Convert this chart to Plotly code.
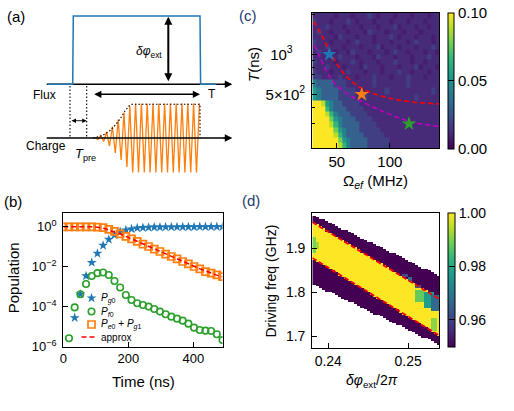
import numpy as np
import plotly.graph_objects as go

FONT = "Liberation Sans, Arial, Helvetica, sans-serif"
W, H = 514, 411

# ============================ DATA ============================
# ---- (b) populations versus time ----
time_ns = [0, 17.5, 35, 52.5, 70, 87.5, 105, 122.5, 140, 157.5, 175, 192.5, 210,
           227.5, 245, 262.5, 280, 297.5, 315, 332.5, 350, 367.5, 385, 402.5, 420,
           437.5, 455, 472.5, 490]
# log10 of the populations
log10_p_g0 = [-4.56, -3.38, -2.47, -1.80, -1.35, -0.95, -0.65, -0.43, -0.26, -0.18,
              -0.13, -0.08, -0.06, -0.05, -0.04, -0.035, -0.03, -0.03, -0.03, -0.025,
              -0.025, -0.025, -0.02, -0.02, -0.02, -0.02, -0.02]          # t = 35 ... 490
log10_p_f0 = [-5.58, -4.04, -3.38, -2.87, -2.47, -2.33, -2.30, -2.42, -2.72, -3.05,
              -3.42, -3.67, -3.83, -3.92, -4.00, -4.12, -4.25, -4.38, -4.50, -4.60,
              -4.70, -4.85, -5.05, -5.17, -5.20, -5.22, -5.38, -5.67]      # t = 17.5 ... 490
log10_p_e0g1 = [-0.02, -0.02, -0.02, -0.02, -0.02, -0.02, -0.03, -0.06, -0.15, -0.25,
                -0.37, -0.50, -0.62, -0.75, -0.88, -1.00, -1.13, -1.25, -1.38, -1.50,
                -1.62, -1.75, -1.87, -2.00, -2.12, -2.25, -2.33, -2.42, -2.50]  # t = 0 ... 490
t_approx = [0, 50, 90, 110, 130, 150, 175, 210, 262.5, 315, 367.5, 420, 472.5, 490]
log10_approx = [-0.01, -0.01, -0.02, -0.05, -0.12, -0.24, -0.38, -0.62, -1.00, -1.37,
                -1.74, -2.11, -2.43, -2.52]

# ---- (c) heat map: Omega_ef (MHz) x T (ns) ----
omega_edges = [27, 31, 35, 39, 43, 47, 51, 55, 59, 63, 67, 71, 75, 79, 83, 87, 91, 95,
               99, 103, 107, 111, 115, 119, 123, 127, 131, 135, 139, 143, 147]
T_edges = [196, 215, 235, 258, 283, 310, 340, 372, 408, 450, 500, 560, 650, 710, 775,
           845, 920, 1000, 1090, 1190, 1300, 1420, 1550, 1690, 1850, 2070]
# colour level codes 0..9 for each cell (bottom row first)
c_level_values = [0.008, 0.012, 0.019, 0.031, 0.043, 0.054, 0.066, 0.078, 0.089, 0.11]
c_rows = [
    "9999998643" "3332222211" "1111111111",
    "9999997543" "3332222211" "1111111111",
    "9999986433" "3322222111" "1111111111",
    "9999975433" "3222221111" "1111111111",
    "9999864333" "3222211111" "1111111111",
    "9999754333" "2222111111" "1111111111",
    "9998643332" "2221111111" "1111111111",
    "9996433322" "2211111111" "1111111111",
    "9985433222" "2111111111" "1111111111",
    "5433332222" "1121111111" "1111211111",
    "5433332222" "1111111211" "1111111121",
    "4333322211" "1111211111" "1121111111",
    "2211112111" "0111211101" "1121110111",
    "2111011121" "1101110111" "2110111011",
    "1112111011" "1021110111" "0111201110",
    "2111101112" "1011101112" "1110110111",
    "1111012111" "0111021110" "1110111211",
    "1211101102" "1110111012" "1101110110",
    "1112111011" "1011120111" "0111011121",
    "2111011101" "2111011101" "1101211101",
    "1111102111" "0111011121" "0111011101",
    "1211011101" "1102111011" "1011101111",
    "1112111011" "1011101112" "0111011011",
    "2111011121" "0111011101" "1101110111",
    "1111101110" "1112101110" "1110111011",
]
# dashed guide curves in (c)
red_omega = [28, 29.5, 37.4, 46.8, 59.4, 73.6, 94.0, 119.2, 146.8]
red_T = [1760, 1710, 1319, 933, 680, 555, 480, 440, 423]
mag_omega = [29.0, 34.6, 40.6, 46.8, 59.4, 73.6, 94.0, 119.2, 146.8]
mag_T = [1175, 933, 740, 622, 509, 441, 370, 311, 286]
star_omega = [43, 73.5, 118]
star_T = [1000, 500, 300]
star_colors = ["#1f77b4", "#ff7f0e", "#2ca02c"]

# ---- (d) heat map: delta phi_ext / 2pi x driving frequency (GHz) ----
phi_edges = np.round(np.linspace(0.2380, 0.2540, 41), 5)
f_edges = np.round(np.arange(1.662, 1.9905, 0.004), 4)
win_width = 0.156
win_lo = [1.818, 1.815, 1.811, 1.808, 1.804, 1.801, 1.797, 1.794, 1.791, 1.787,
          1.784, 1.780, 1.777, 1.773, 1.770, 1.766, 1.763, 1.759, 1.756, 1.752,
          1.749, 1.745, 1.742, 1.738, 1.735, 1.732, 1.728, 1.725, 1.721, 1.718,
          1.714, 1.711, 1.707, 1.704, 1.700, 1.697, 1.693, 1.690, 1.686, 1.683]
yel_lo = [1.876, 1.871, 1.867, 1.863, 1.858, 1.854, 1.849, 1.845, 1.840, 1.836,
          1.832, 1.827, 1.823, 1.818, 1.814, 1.809, 1.805, 1.801, 1.796, 1.792,
          1.787, 1.783, 1.779, 1.774, 1.770, 1.765, 1.761, 1.756, 1.752, 1.748,
          1.743, 1.739, 1.734, 1.730, 1.725, 1.721, 1.717, 1.712, 1.708, 1.703]
yel_hi = [1.957, 1.952, 1.948, 1.944, 1.939, 1.935, 1.931, 1.926, 1.922, 1.917,
          1.913, 1.909, 1.904, 1.900, 1.896, 1.891, 1.887, 1.882, 1.878, 1.874,
          1.869, 1.865, 1.861, 1.856, 1.852, 1.847, 1.843, 1.839, 1.834, 1.830,
          1.826, 1.821, 1.817, 1.813, 1.808, 1.804, 1.799, 1.795, 1.791, 1.786]
fid_low, fid_high = 0.95, 1.0
# local patches (phi0, phi1, f0, f1, value)
d_patches = [
    (0.2380, 0.2384, 1.890, 1.925, 0.990),
    (0.2384, 0.2388, 1.900, 1.915, 0.993),
    (0.2508, 0.2520, 1.780, 1.806, 0.988),
    (0.2520, 0.2530, 1.768, 1.800, 0.978),
    (0.2530, 0.2540, 1.758, 1.794, 0.967),
    (0.2494, 0.2498, 1.834, 1.842, 0.962),
    (0.2502, 0.2506, 1.826, 1.832, 0.967),
    (0.2510, 0.2514, 1.812, 1.818, 0.965),
    (0.2528, 0.2534, 1.716, 1.740, 0.991),
]
red_up_phi, red_up_f = [0.2380, 0.2539], [1.959, 1.785]
red_lo_phi, red_lo_f = [0.2380, 0.2539], [1.878, 1.7023]

# ============================ BUILD ============================
fig = go.Figure()

# ---------- (b) ----------
fig.add_trace(go.Scatter(
    x=time_ns[2:], y=[10 ** v for v in log10_p_g0], mode="markers",
    marker=dict(symbol="star", size=7.5, color="#1f77b4", line=dict(width=0)),
    xaxis="x", yaxis="y", showlegend=False))
fig.add_trace(go.Scatter(
    x=time_ns[1:], y=[10 ** v for v in log10_p_f0], mode="markers",
    marker=dict(symbol="circle-open", size=6.5, color="#2ca02c", line=dict(width=1.6)),
    xaxis="x", yaxis="y", showlegend=False))
fig.add_trace(go.Scatter(
    x=time_ns, y=[10 ** v for v in log10_p_e0g1], mode="markers",
    marker=dict(symbol="square-open", size=7, color="#ff7f0e", line=dict(width=1.7)),
    xaxis="x", yaxis="y", showlegend=False))
fig.add_trace(go.Scatter(
    x=t_approx, y=[10 ** v for v in log10_approx], mode="lines",
    line=dict(color="red", width=1.5, dash="5px,3px"),
    xaxis="x", yaxis="y", showlegend=False))

# ---------- (c) ----------
z_c = [[c_level_values[int(ch)] for ch in row] for row in c_rows]
fig.add_trace(go.Heatmap(
    x=omega_edges, y=T_edges, z=z_c, colorscale="Viridis", zmin=0, zmax=0.1,
    xaxis="x2", yaxis="y2",
    colorbar=dict(x=447.7 / W, xanchor="left", xpad=0, y=1 - 12.5 / H, yanchor="top",
                  ypad=0, len=(148.3 - 12.5) / H, thickness=6.3, outlinewidth=1,
                  outlinecolor="black", tickmode="array", tickvals=[0, 0.05, 0.1],
                  ticktext=["0.00", "0.05", "0.10"], ticks="inside", ticklen=6,
                  tickcolor="black", tickfont=dict(family=FONT, size=15, color="black"))))
fig.add_trace(go.Scatter(x=red_omega, y=red_T, mode="lines", line_shape="spline",
                         line=dict(color="red", width=1.6, dash="5px,3px"),
                         xaxis="x2", yaxis="y2", showlegend=False))
fig.add_trace(go.Scatter(x=mag_omega, y=mag_T, mode="lines", line_shape="spline",
                         line=dict(color="#bf00bf", width=1.6, dash="5px,3px"),
                         xaxis="x2", yaxis="y2", showlegend=False))
fig.add_trace(go.Scatter(x=star_omega, y=star_T, mode="markers",
                         marker=dict(symbol="star", size=11, color=star_colors, line=dict(width=0)),
                         xaxis="x2", yaxis="y2", showlegend=False))

# ---------- (d) ----------
f_c = (f_edges[:-1] + f_edges[1:]) / 2
phi_c = (phi_edges[:-1] + phi_edges[1:]) / 2
z_d = np.full((len(f_c), len(phi_c)), np.nan)
for i in range(len(phi_c)):
    inside = (f_c >= win_lo[i]) & (f_c <= win_lo[i] + win_width)
    z_d[inside, i] = fid_low
    z_d[inside & (f_c >= yel_lo[i]) & (f_c <= yel_hi[i]), i] = fid_high
for (p0, p1, f0, f1, val) in d_patches:
    cols = (phi_c >= p0) & (phi_c <= p1)
    rows = (f_c >= f0) & (f_c <= f1)
    for r in np.where(rows)[0]:
        for c in np.where(cols)[0]:
            if not np.isnan(z_d[r, c]):
                z_d[r, c] = val
z_d_list = [[None if np.isnan(v) else float(v) for v in row] for row in z_d]
fig.add_trace(go.Heatmap(
    x=list(phi_edges), y=list(f_edges), z=z_d_list, colorscale="Viridis",
    zmin=0.95, zmax=1.0, xaxis="x3", yaxis="y3", hoverongaps=False,
    colorbar=dict(x=448.3 / W, xanchor="left", xpad=0, y=1 - 212.7 / H, yanchor="top",
                  ypad=0, len=(346.7 - 212.7) / H, thickness=6.7, outlinewidth=1,
                  outlinecolor="black", tickmode="array", tickvals=[0.96, 0.98, 1.0],
                  ticktext=["0.96", "0.98", "1.00"], ticks="inside", ticklen=6,
                  tickcolor="black", tickfont=dict(family=FONT, size=14, color="black"))))
for px_, fy_ in ((red_up_phi, red_up_f), (red_lo_phi, red_lo_f)):
    fig.add_trace(go.Scatter(x=px_, y=fy_, mode="lines",
                             line=dict(color="red", width=1.8, dash="5px,2.5px"),
                             xaxis="x3", yaxis="y3", showlegend=False))

# ---------- overlay (pixel) axis: schematic (a) and legend of (b) ----------
ov = dict(xaxis="x4", yaxis="y4", showlegend=False, hoverinfo="skip")
flux_y, charge_y = 84.3, 138.0
wave_amp = [0.5, 1.5, 2.5, 3.5, 6, 8, 11.5, 15, 18.5, 22, 25.5, 29, 32, 34.5,
            34.5, 34.5, 34.5, 34.5, 34.5, 34.5, 34.5, 34.5, 34.5, 34.5, 34.5, 34.5,
            34.5, 34.5, 34.5, 34.5, 34.5, 34.5, 34.5, 34.5, 34.5, 34.5, 34.5]
wave_x = [95 + 2.9 * j for j in range(len(wave_amp))]
wave_y = [charge_y - a if j % 2 == 0 else charge_y + a for j, a in enumerate(wave_amp)]

# flux axis + pulse
fig.add_trace(go.Scatter(x=[46.7, 229], y=[flux_y, flux_y], mode="lines",
                         line=dict(color="black", width=1.5), **ov))
fig.add_trace(go.Scatter(x=[47.5, 72.7, 73.3, 200.0, 200.6, 216.0],
                         y=[flux_y, flux_y, 16.0, 16.0, flux_y, flux_y], mode="lines",
                         line=dict(color="#1f77b4", width=1.5), **ov))
# charge: wave then axis
fig.add_trace(go.Scatter(x=wave_x, y=wave_y, mode="lines",
                         line=dict(color="#ff7f0e", width=1.3), **ov))
fig.add_trace(go.Scatter(x=[46.7, 229], y=[charge_y, charge_y], mode="lines",
                         line=dict(color="black", width=1.5), **ov))
# dotted guides
fig.add_trace(go.Scatter(x=[70, 70, None, 86.7, 86.7], y=[86, charge_y, None, 86, charge_y],
                         mode="lines", line=dict(color="black", width=1.1, dash="1.5px,2px"), **ov))
fig.add_trace(go.Scatter(x=[93.3, 100, 105, 110, 115, 120, 125, 129, 132, 200, 200],
                         y=[138, 136.3, 134, 130.5, 125.5, 119, 111, 106, 104.3, 104.3, 138],
                         mode="lines", line=dict(color="black", width=1.1, dash="1.5px,2px"), **ov))
# legend samples for (b)
fig.add_trace(go.Scatter(x=[91.5], y=[298], mode="markers",
                         marker=dict(symbol="star", size=7.5, color="#1f77b4"), **ov))
fig.add_trace(go.Scatter(x=[91.5], y=[311.5], mode="markers",
                         marker=dict(symbol="circle-open", size=6.5, color="#2ca02c", line=dict(width=1.6)), **ov))
fig.add_trace(go.Scatter(x=[91.5], y=[324.5], mode="markers",
                         marker=dict(symbol="square-open", size=7, color="#ff7f0e", line=dict(width=1.7)), **ov))
fig.add_trace(go.Scatter(x=[81.5, 97.5], y=[337, 337], mode="lines",
                         line=dict(color="red", width=1.5, dash="5px,3px"), **ov))

annotations = []


def txt(x, y, text, size, xanchor="center", angle=0, color="black"):
    annotations.append(dict(x=x, y=y, xref="x4", yref="y4", text=text, showarrow=False,
                            font=dict(family=FONT, size=size, color=color),
                            xanchor=xanchor, yanchor="middle", textangle=angle))


def arrow(x0, y0, x1, y1, width, both=False, size=1.0):
    annotations.append(dict(x=x1, y=y1, ax=x0, ay=y0, xref="x4", yref="y4",
                            axref="x4", ayref="y4", text="", showarrow=True,
                            arrowhead=2, arrowsize=size, arrowwidth=width,
                            arrowcolor="black", standoff=0, startstandoff=0,
                            startarrowhead=2, startarrowsize=size,
                            arrowside="end+start" if both else "end"))


# schematic arrows
arrow(222, flux_y, 232.3, flux_y, 1.5)
arrow(222, charge_y, 232.3, charge_y, 1.5)
arrow(168.3, 82.7, 168.3, 16.7, 2.0, both=True, size=0.8)
arrow(92.7, 94.3, 200, 94.3, 1.6, both=True, size=0.9)
arrow(70, 120.7, 86.7, 120.7, 0.9, both=True, size=1.0)
# schematic texts
txt(16, 16.7, "(a)", 15)
txt(164, 51.7, "<i>δφ</i><sub>ext</sub>", 12, xanchor="right")
txt(44.7, 94.7, "Flux", 12)
txt(211.5, 94.3, "T", 12)
txt(45.8, 145.8, "Charge", 12)
txt(73, 154, "<i>T</i><sub>pre</sub>", 13, xanchor="left")
# panel labels
txt(13.3, 201.5, "(b)", 15)
txt(248, 15, "(c)", 15, color="#1e3a6e")
txt(251, 200, "(d)", 15, color="#1e3a6e")
# axis titles
txt(13, 278.3, "Population", 15, angle=-90)
txt(143.3, 381.7, "Time (ns)", 15)
txt(253, 65, "<i>T</i>(ns)", 15, angle=-90)
txt(375.7, 181, "Ω<sub><i>ef</i></sub> (MHz)", 15)
txt(270.8, 280.7, "Driving freq (GHz)", 14, angle=-90)
txt(372, 381, "<i>δφ</i><sub>ext</sub>/2<i>π</i>", 14)
# legend texts of (b)
txt(98.5, 298, "<i>P</i><sub><i>g</i>0</sub>", 10, xanchor="left")
txt(98.5, 311.5, "<i>P</i><sub><i>f</i>0</sub>", 10, xanchor="left")
txt(98.5, 324.5, "<i>P</i><sub><i>e</i>0</sub> + <i>P</i><sub><i>g</i>1</sub>", 10, xanchor="left")
txt(98.5, 337, "approx", 10, xanchor="left")


def dom_x(a, b):
    return [a / W, b / W]


def dom_y(top, bottom):
    return [1 - bottom / H, 1 - top / H]


base = dict(showline=True, mirror=True, linecolor="black", linewidth=1.2, ticks="inside",
            ticklen=5, tickwidth=1.2, tickcolor="black", showgrid=False, zeroline=False,
            tickmode="array", ticklabelstandoff=3, automargin=False)
base_x = dict(base, ticklabelstandoff=0)

fig.update_layout(
    width=W, height=H, margin=dict(l=0, r=0, t=0, b=0, autoexpand=False),
    paper_bgcolor="white", plot_bgcolor="rgba(0,0,0,0)",
    font=dict(family=FONT, color="black"), showlegend=False,
    xaxis=dict(base_x, domain=dom_x(63.3, 222.5), range=[0, 490], anchor="y",
               tickvals=[0, 200, 400], ticktext=["0", "200", "400"],
               tickfont=dict(size=13)),
    yaxis=dict(base, domain=dom_y(213, 346.7), type="log", range=[-6, 0.67], anchor="x",
               tickvals=[1, 1e-2, 1e-4, 1e-6],
               ticktext=["10<sup>0</sup>", "10<sup>−2</sup>", "10<sup>−4</sup>", "10<sup>−6</sup>"],
               tickfont=dict(size=13)),
    xaxis2=dict(base_x, domain=dom_x(312.3, 439.3), range=[27, 146.5], anchor="y2",
                tickvals=[50, 100], ticktext=["50", "100"], tickfont=dict(size=15)),
    yaxis2=dict(base, domain=dom_y(12.5, 148.3), type="log",
                range=[np.log10(196), np.log10(2070)], anchor="x2",
                tickvals=[500, 1000],
                ticktext=["5×10<sup>2</sup>", "10<sup>3</sup>\u00a0\u00a0\u00a0"],
                tickfont=dict(size=15),
                minor=dict(ticks="inside", ticklen=3, tickwidth=1, tickcolor="black",
                           tickvals=[300, 400, 600, 700, 800, 900, 2000], showgrid=False)),
    xaxis3=dict(base_x, domain=dom_x(312.3, 439.3), range=[0.238, 0.2539], anchor="y3",
                tickvals=[0.24, 0.25], ticktext=["0.24", "0.25"], tickfont=dict(size=14)),
    yaxis3=dict(base, domain=dom_y(212.5, 348), range=[1.674, 1.981], anchor="x3",
                tickvals=[1.7, 1.8, 1.9], ticktext=["1.7", "1.8", "1.9"], tickfont=dict(size=14)),
    xaxis4=dict(domain=[0, 1], range=[0, W], visible=False, anchor="y4", fixedrange=True,
                automargin=False),
    yaxis4=dict(domain=[0, 1], range=[H, 0], visible=False, anchor="x4", fixedrange=True,
                automargin=False),
    annotations=annotations,
)

# page without the browser's default 8px body margin, so the figure sits at (0, 0)
fig.write_html("out.html", config={"displayModeBar": False},
               post_script="document.body.style.margin='0px';")
